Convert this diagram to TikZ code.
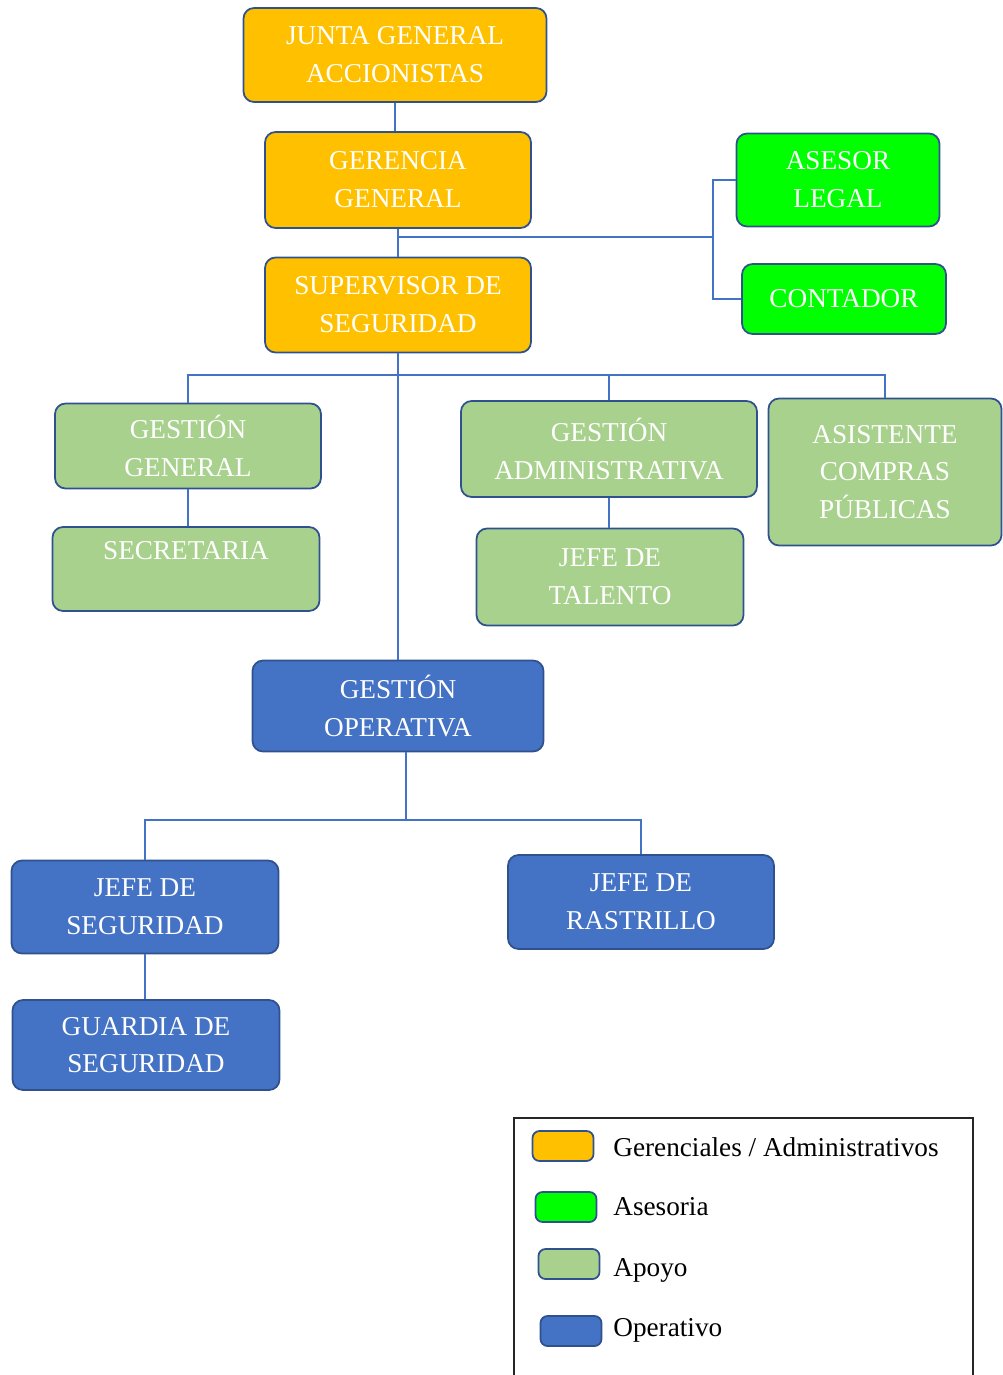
\documentclass[tikz,border=0pt]{standalone}
\usepackage{fontspec}
\setmainfont{Liberation Serif}
\usetikzlibrary{positioning, calc}
\definecolor{gerencial}{HTML}{FFC000}
\definecolor{asesoria}{HTML}{00FF00}
\definecolor{apoyo}{HTML}{A9D18E}
\definecolor{operativo}{HTML}{4472C4}
\definecolor{borde}{HTML}{2F528F}
\tikzset{
  cargo/.style={
    draw=borde,
    line width=1pt,
    rounded corners=6pt,
    text=white,
    align=center,
    inner sep=0pt,
    font=\fontsize{15.5}{21.5}\selectfont
  },
  boxsize/.style 2 args={
    minimum width=#1*0.02cm,
    minimum height=#2*0.02cm
  },
  gerente/.style={cargo, fill=gerencial},
  asesor/.style={cargo, fill=asesoria},
  apoyobox/.style={cargo, fill=apoyo},
  operbox/.style={cargo, fill=operativo},
  link/.style={
    draw=operativo,
    line width=1pt
  },
  muestra/.style={
    draw=borde,
    line width=1pt,
    rounded corners=4pt,
    minimum width=1.22cm,
    minimum height=0.6cm,
    inner sep=0pt
  },
  leyenda/.style={
    inner sep=0pt,
    anchor=west,
    font=\fontsize{15.5}{18}\selectfont
  }
}
\begin{document}
\begin{tikzpicture}[x=0.02cm, y=-0.02cm]
    % 1 unidad = 1 pixel del original
    \useasboundingbox (0,0) rectangle (1003,1375);

    % nivel gerencial
    \node[gerente, boxsize={303}{94}] (junta) at (395,55) {JUNTA GENERAL\\ACCIONISTAS};
    \node[gerente, boxsize={266}{96}] (gerencia) at (398,180) {GERENCIA\\GENERAL};
    \node[gerente, boxsize={266}{95}] (supervisor) at (398,305) {SUPERVISOR DE\\SEGURIDAD};

    % asesoria
    \node[asesor, boxsize={203}{93}] (asesorlegal) at (838,180) {ASESOR\\LEGAL};
    \node[asesor, boxsize={204}{70}] (contador) at (844,299) {CONTADOR};

    % apoyo
    \node[apoyobox, boxsize={266}{85}] (gestgen) at (188,446) {GESTIÓN\\GENERAL};
    \node[apoyobox, boxsize={267}{84}] (secretaria) at (186,569) {SECRETARIA\\\mbox{}};
    \node[apoyobox, boxsize={296}{96}] (gestadm) at (609,449) {GESTIÓN\\ADMINISTRATIVA};
    \node[apoyobox, boxsize={267}{97}] (talento) at (610,577) {JEFE DE\\TALENTO};
    \node[apoyobox, boxsize={233}{147}] (asistente) at (885,472) {ASISTENTE\\COMPRAS\\PÚBLICAS};

    % operativo
    \node[operbox, boxsize={291}{91}] (gestop) at (398,706) {GESTIÓN\\OPERATIVA};
    \node[operbox, boxsize={267}{93}] (jefeseg) at (145,907) {JEFE DE\\SEGURIDAD};
    \node[operbox, boxsize={266}{94}] (rastrillo) at (641,902) {JEFE DE\\RASTRILLO};
    \node[operbox, boxsize={267}{90}] (guardia) at (146,1045) {GUARDIA DE\\SEGURIDAD};

    % puntos de ramificacion
    \coordinate (ramaA) at (713,237);
    \coordinate (ramaB) at (398,375);
    \coordinate (ramaC) at (406,820);

    % conexiones
    \draw[link] (junta.south) -- (junta.south |- gerencia.north);
    \draw[link] (gerencia.south) -- (supervisor.north);
    \draw[link] (gerencia.south |- ramaA) -- (ramaA);
    \draw[link] (asesorlegal.west) -| (ramaA) |- (contador.west);
    \draw[link] (supervisor.south) -- (gestop.north);
    \draw[link] (gestgen.north) |- (ramaB) -| (asistente.north);
    \draw[link] (gestadm.north) -- (gestadm.north |- ramaB);
    \draw[link] (gestgen.south) -- (gestgen.south |- secretaria.north);
    \draw[link] (gestadm.south) -- (gestadm.south |- talento.north);
    \draw[link] (ramaC |- gestop.south) -- (ramaC);
    \draw[link] (jefeseg.north) |- (ramaC) -| (rastrillo.north);
    \draw[link] (jefeseg.south) -- (jefeseg.south |- guardia.north);

    % leyenda
    \draw[line width=1.2pt, black!85] (514,1380) -- (514,1118) -- (973,1118) -- (973,1380);
    \node[muestra, fill=gerencial] (mGer) at (563,1146) {};
    \node[muestra, fill=asesoria] (mAse) at (566,1207) {};
    \node[muestra, fill=apoyo] (mApo) at (569,1264) {};
    \node[muestra, fill=operativo] (mOpe) at (571,1331) {};
    \node[leyenda] (lGer) at (613,1147) {Gerenciales / Administrativos};
    \node[leyenda] (lAse) at (613,1207) {Asesoria};
    \node[leyenda] (lApo) at (613,1270) {Apoyo};
    \node[leyenda] (lOpe) at (613,1330) {Operativo};

\end{tikzpicture}
\end{document}
